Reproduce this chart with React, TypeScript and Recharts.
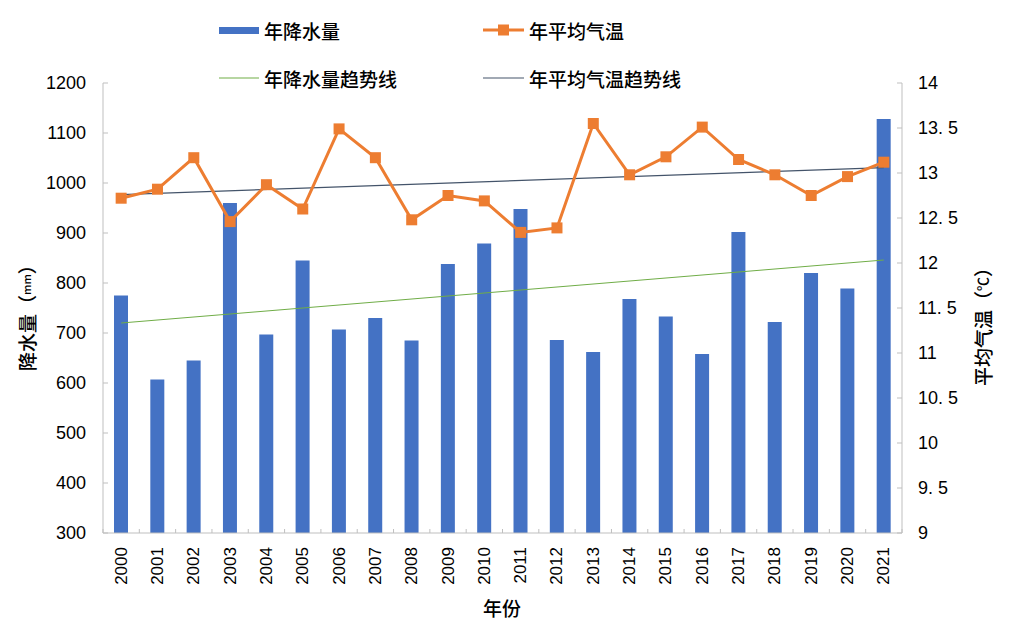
import React from 'react';
import { ComposedChart, Bar, Line, XAxis, YAxis } from 'recharts';

const years = ['2000','2001','2002','2003','2004','2005','2006','2007','2008','2009','2010','2011','2012','2013','2014','2015','2016','2017','2018','2019','2020','2021'];
const precipitation = [775, 607, 645, 960, 697, 845, 707, 730, 685, 838, 879, 948, 686, 662, 768, 733, 658, 902, 722, 820, 789, 1128];
const temperature = [12.72, 12.82, 13.17, 12.46, 12.87, 12.60, 13.49, 13.17, 12.48, 12.75, 12.69, 12.34, 12.39, 13.55, 12.98, 13.18, 13.51, 13.15, 12.98, 12.75, 12.96, 13.12];
const precipTrendEnds = [720, 846];
const tempTrendEnds = [12.76, 13.06];
const leftTicks = [300, 400, 500, 600, 700, 800, 900, 1000, 1100, 1200];
const rightTicks = [9, 9.5, 10, 10.5, 11, 11.5, 12, 12.5, 13, 13.5, 14];

const data = years.map((y, i) => ({
  year: y,
  precip: precipitation[i],
  temp: temperature[i],
  precipTrend: i === 0 ? precipTrendEnds[0] : i === years.length - 1 ? precipTrendEnds[1] : null,
  tempTrend: i === 0 ? tempTrendEnds[0] : i === years.length - 1 ? tempTrendEnds[1] : null,
}));

const W = 1016;
const H = 628;
const PLOT_LEFT = 103;
const PLOT_RIGHT = 902;
const PLOT_TOP = 83;
const PLOT_BOTTOM = 533;
const BAND = (PLOT_RIGHT - PLOT_LEFT) / years.length;

const FONT = '"Liberation Sans", Arial, "Noto Sans CJK SC", sans-serif';
const CJK = '"Noto Sans CJK SC", "Liberation Sans", sans-serif';
const AXIS_COLOR = '#BFBFBF';
const TEXT = '#000';

const LeftTick = (props: any) => {
  const { x, y, payload } = props;
  return (
    <g>
      <line x1={x + 17} x2={x + 22} y1={y} y2={y} stroke={AXIS_COLOR} strokeWidth={1} />
      <text x={x} y={y} textAnchor="end" dominantBaseline="central" fontFamily={FONT} fontSize={18} fill={TEXT}>
        {payload.value}
      </text>
    </g>
  );
};

const RightTick = (props: any) => {
  const { x, y, payload } = props;
  const label = String(payload.value).replace('.', '. ');
  return (
    <g>
      <line x1={x - 16} x2={x - 21} y1={y} y2={y} stroke={AXIS_COLOR} strokeWidth={1} />
      <text x={x} y={y} textAnchor="start" dominantBaseline="central" fontFamily={FONT} fontSize={18} fill={TEXT}>
        {label}
      </text>
    </g>
  );
};

const BottomTick = (props: any) => {
  const { x, y, payload, index } = props;
  const axisY = y - 14;
  return (
    <g>
      <line x1={x - BAND / 2} x2={x - BAND / 2} y1={axisY} y2={axisY - 4} stroke={AXIS_COLOR} strokeWidth={1} />
      {index === years.length - 1 && (
        <line x1={x + BAND / 2} x2={x + BAND / 2} y1={axisY} y2={axisY - 4} stroke={AXIS_COLOR} strokeWidth={1} />
      )}
      <text
        x={x}
        y={y}
        transform={`rotate(-90, ${x}, ${y})`}
        textAnchor="end"
        dominantBaseline="central"
        fontFamily={FONT}
        fontSize={17}
        fill={TEXT}
      >
        {payload.value}
      </text>
    </g>
  );
};

const SquareDot = (props: any) => {
  const { cx, cy, index } = props;
  if (cx == null || cy == null) return <g key={index} />;
  return <rect key={index} x={cx - 5.5} y={cy - 5.5} width={11} height={11} fill="#ED7D31" />;
};

const legendText = { fontFamily: CJK, fontSize: 19, fontWeight: 500, fill: TEXT } as const;

export default function App() {
  return (
    <div style={{ position: 'absolute', left: 0, top: 0, width: W, height: H, background: '#fff' }}>
      <ComposedChart
        width={W}
        height={H}
        data={data}
        margin={{ top: PLOT_TOP, right: 0, bottom: 0, left: 0 }}
        barCategoryGap={0}
      >
        <XAxis
          dataKey="year"
          xAxisId="x"
          height={H - PLOT_BOTTOM}
          tickLine={false}
          tickSize={0}
          tickMargin={14}
          stroke={AXIS_COLOR}
          tick={<BottomTick />}
          interval={0}
        />
        <YAxis
          yAxisId="left"
          orientation="left"
          width={PLOT_LEFT}
          domain={[300, 1200]}
          ticks={leftTicks}
          tickLine={false}
          tickSize={0}
          tickMargin={17}
          stroke={AXIS_COLOR}
          tick={<LeftTick />}
          interval={0}
        />
        <YAxis
          yAxisId="right"
          orientation="right"
          width={W - PLOT_RIGHT}
          domain={[9, 14]}
          ticks={rightTicks}
          tickLine={false}
          tickSize={0}
          tickMargin={16}
          stroke={AXIS_COLOR}
          tick={<RightTick />}
          interval={0}
        />
        <Bar xAxisId="x" yAxisId="left" dataKey="precip" fill="#4472C4" barSize={14} isAnimationActive={false} />
        <Line
          xAxisId="x"
          yAxisId="left"
          dataKey="precipTrend"
          stroke="#70AD47"
          strokeWidth={1}
          dot={false}
          connectNulls
          isAnimationActive={false}
        />
        <Line
          xAxisId="x"
          yAxisId="right"
          dataKey="tempTrend"
          stroke="#44546A"
          strokeWidth={1.2}
          dot={false}
          connectNulls
          isAnimationActive={false}
        />
        <Line
          xAxisId="x"
          yAxisId="right"
          dataKey="temp"
          stroke="#ED7D31"
          strokeWidth={3}
          dot={<SquareDot />}
          activeDot={false}
          isAnimationActive={false}
        />
      </ComposedChart>

      <svg width={W} height={H} style={{ position: 'absolute', left: 0, top: 0, pointerEvents: 'none' }}>
        <rect x={219} y={27} width={40} height={7} fill="#4472C4" />
        <text x={264} y={30} dominantBaseline="central" {...legendText}>年降水量</text>
        <line x1={483} x2={524} y1={30} y2={30} stroke="#ED7D31" strokeWidth={3} />
        <rect x={498} y={24.5} width={11} height={11} fill="#ED7D31" />
        <text x={529} y={30} dominantBaseline="central" {...legendText}>年平均气温</text>
        <line x1={219} x2={259} y1={78} y2={78} stroke="#70AD47" strokeWidth={1.2} />
        <text x={264} y={78} dominantBaseline="central" {...legendText}>年降水量趋势线</text>
        <line x1={483} x2={524} y1={78} y2={78} stroke="#44546A" strokeWidth={1.2} />
        <text x={529} y={78} dominantBaseline="central" {...legendText}>年平均气温趋势线</text>

        <text
          x={26}
          y={313}
          transform="rotate(-90, 26, 313)"
          textAnchor="middle"
          dominantBaseline="central"
          fontFamily={CJK}
          fontSize={19}
          fontWeight={500}
          fill={TEXT}
        >
          降水量（<tspan fontSize={11}>mm</tspan>）
        </text>
        <text
          x={982}
          y={322}
          transform="rotate(-90, 982, 322)"
          textAnchor="middle"
          dominantBaseline="central"
          fontFamily={CJK}
          fontSize={19}
          fontWeight={500}
          fill={TEXT}
        >
          平均气温（<tspan fontSize={14}>℃</tspan>）
        </text>
        <text x={502} y={607} textAnchor="middle" dominantBaseline="central" fontFamily={CJK} fontSize={19} fontWeight={500} fill={TEXT}>
          年份
        </text>
      </svg>
    </div>
  );
}
